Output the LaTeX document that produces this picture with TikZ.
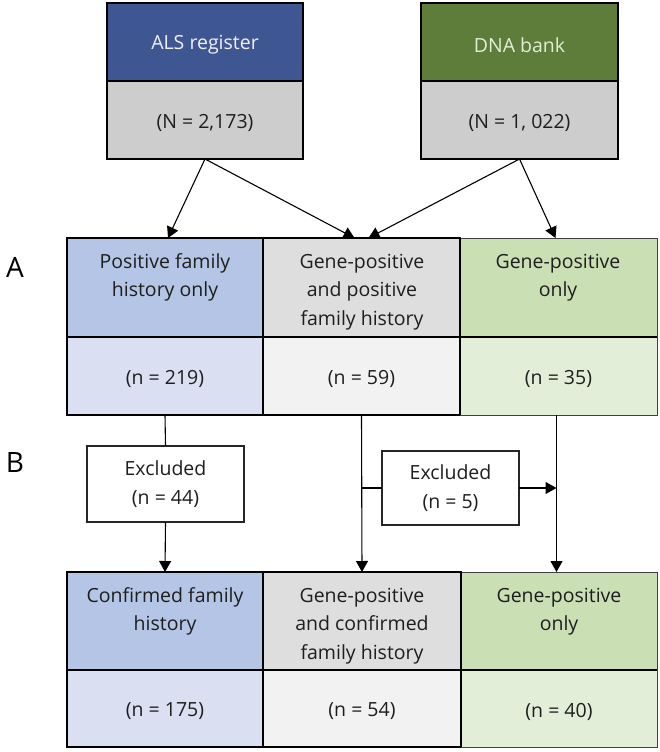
\documentclass[tikz,border=0pt]{standalone}
\usepackage{fontspec}
\setmainfont{Open Sans}
\usetikzlibrary{arrows.meta}
\definecolor{alsblue}{HTML}{3E5793}
\definecolor{dnagreen}{HTML}{5E7C3A}
\definecolor{srcgray}{HTML}{CDCDCD}
\definecolor{bluehead}{HTML}{B4C5E5}
\definecolor{bluelow}{HTML}{DAE0F1}
\definecolor{grayhead}{HTML}{DEDEDE}
\definecolor{graylow}{HTML}{F2F2F2}
\definecolor{greenhead}{HTML}{CADFB3}
\definecolor{greenlow}{HTML}{E3EED9}
\definecolor{alstext}{HTML}{EEF0F6}
\definecolor{dnatext}{HTML}{E4EED2}
\definecolor{txtdark}{HTML}{1E1E1E}
\begin{document}
\begin{tikzpicture}[x=1pt,y=-1pt,
  cell/.style={draw=black, line width=1.6pt, inner sep=0pt, outer sep=0pt, anchor=north west},
  thincell/.style={draw=black!75, line width=1pt, inner sep=0pt, outer sep=0pt, anchor=north west},
  txt/.style={font=\fontsize{19.5}{28.5}\selectfont, align=center, text=txtdark, inner sep=0pt},
  exbox/.style={draw=black!85, line width=1.1pt, fill=white, inner sep=0pt, outer sep=0pt, anchor=north west, font=\fontsize{19.5}{29}\selectfont, align=center, text=txtdark},
  conn/.style={draw=black, line width=1.1pt},
  arr/.style={conn, -{Triangle[length=11pt,width=12pt]}},
  panel/.style={font=\fontsize{28}{30}\selectfont, text=black, inner sep=0pt}
]
\useasboundingbox[fill=white] (0,0) rectangle (660,752);

% source boxes
\node[cell, fill=alsblue, minimum width=196pt, minimum height=78pt] (alsH) at (107,3) {};
\node[cell, fill=srcgray, minimum width=196pt, minimum height=78pt] (alsL) at (107,81) {};
\node[txt, text=alstext] (alsT) at ([yshift=-3pt]alsH.center) {ALS register};
\node[txt] (alsN) at ([yshift=-3pt]alsL.center) {(N = 2,173)};

\node[cell, fill=dnagreen, minimum width=197pt, minimum height=78pt] (dnaH) at (421,3) {};
\node[cell, fill=srcgray, minimum width=197pt, minimum height=78pt] (dnaL) at (421,81) {};
\node[txt, text=dnatext] (dnaT) at ([yshift=-3pt]dnaH.center) {DNA bank};
\node[txt] (dnaN) at ([yshift=-3pt]dnaL.center) {(N = 1, 022)};

% panel labels
\node[panel] (labA) at (15,267) {A};
\node[panel] (labB) at (15,463) {B};

% row 2
\node[cell, fill=bluehead, minimum width=196pt, minimum height=99pt] (r2aH) at (67,238) {};
\node[cell, fill=bluelow, minimum width=196pt, minimum height=78pt] (r2aL) at (67,337) {};
\node[cell, fill=grayhead, minimum width=197pt, minimum height=99pt] (r2bH) at (263,238) {};
\node[cell, fill=graylow, minimum width=197pt, minimum height=78pt] (r2bL) at (263,337) {};
\node[thincell, fill=greenhead, minimum width=197pt, minimum height=99pt] (r2cH) at (460,238) {};
\node[thincell, fill=greenlow, minimum width=197pt, minimum height=78pt] (r2cL) at (460,337) {};
\draw[line width=1.6pt] (r2cH.south west) -- (r2cH.south east);
\draw[line width=1.6pt] (r2bH.north east) -- (r2bL.south east);

\node[txt, anchor=base] (r2aT) at (165,296.5) {Positive family\\history only};
\node[txt, anchor=base] (r2bT) at (362,325) {Gene-positive\\and positive\\family history};
\node[txt, anchor=base] (r2cT) at (558,296.5) {Gene-positive\\only};
\node[txt] (r2aN) at ([yshift=-3pt]r2aL.center) {(n = 219)};
\node[txt] (r2bN) at ([yshift=-3pt]r2bL.center) {(n = 59)};
\node[txt] (r2cN) at ([yshift=-3pt]r2cL.center) {(n = 35)};

% row 3
\node[cell, fill=bluehead, minimum width=196pt, minimum height=98pt] (r3aH) at (67,572) {};
\node[cell, fill=bluelow, minimum width=196pt, minimum height=77pt] (r3aL) at (67,670) {};
\node[cell, fill=grayhead, minimum width=198pt, minimum height=98pt] (r3bH) at (263,572) {};
\node[cell, fill=graylow, minimum width=198pt, minimum height=77pt] (r3bL) at (263,670) {};
\node[thincell, fill=greenhead, minimum width=196pt, minimum height=98pt] (r3cH) at (461,572) {};
\node[thincell, fill=greenlow, minimum width=196pt, minimum height=77pt] (r3cL) at (461,670) {};
\draw[line width=1.6pt] (r3cH.south west) -- (r3cH.south east);
\draw[line width=1.6pt] (r3bH.north east) -- (r3bL.south east);

\node[txt, anchor=base] (r3aT) at (165,630.5) {Confirmed family\\history};
\node[txt, anchor=base] (r3bT) at (362,659) {Gene-positive\\and confirmed\\family history};
\node[txt, anchor=base] (r3cT) at (559,630.5) {Gene-positive\\only};
\node[txt] (r3aN) at ([yshift=-3pt]r3aL.center) {(n = 175)};
\node[txt] (r3bN) at ([yshift=-3pt]r3bL.center) {(n = 54)};
\node[txt] (r3cN) at ([yshift=-3pt]r3cL.center) {(n = 40)};

% excluded boxes
\node[exbox, minimum width=157pt, minimum height=76pt] (ex1) at (87,446) {Excluded\\(n = 44)};
\node[exbox, minimum width=137pt, minimum height=74pt] (ex2) at (382,451) {Excluded\\(n = 5)};

% connectors from sources
\draw[arr] (alsL.south) -- ([xshift=3pt]r2aH.north);
\draw[arr] (alsL.south) -- ([xshift=-7pt]r2bH.north);
\draw[arr] (dnaL.south) -- ([xshift=7pt]r2bH.north);
\draw[arr] (dnaL.south) -- ([xshift=-3pt]r2cH.north);

% row 2 to row 3
\draw[conn] (r2aL.south) -- (ex1.north);
\draw[arr] (ex1.south) -- (r3aH.north);
\draw[arr] (r2bL.south) -- (r3bH.north);
\coordinate (brm) at (r2bL.south |- ex2.west);
\draw[conn] (brm) -- (ex2.west);
\coordinate (rtop) at ([xshift=-2pt]r2cL.south);
\coordinate (rbot) at (rtop |- r3cH.north);
\draw[arr] (rtop) -- (rbot);
\draw[arr] (ex2.east) -- (ex2.east -| rtop);
\end{tikzpicture}
\end{document}
